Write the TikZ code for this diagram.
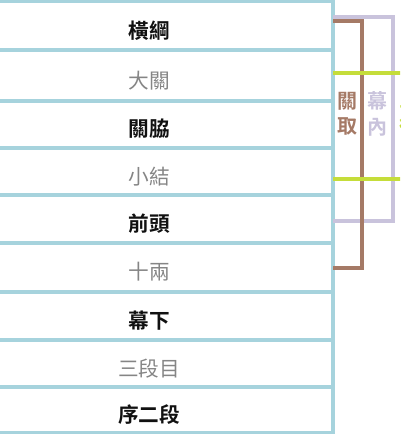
\documentclass[tikz,border=0pt]{standalone}
\usepackage{fontspec}
\newfontfamily\jp{Noto Sans CJK TC}
\newfontfamily\jpb{Noto Sans CJK TC Bold}
\definecolor{tblue}{HTML}{A6D3DD}
\definecolor{tbrown}{HTML}{A57A66}
\definecolor{tlav}{HTML}{C9C3DC}
\definecolor{tgreen}{HTML}{C5DD3A}
\definecolor{tgrey}{HTML}{858585}
\definecolor{tblack}{HTML}{111111}
\begin{document}
\begin{tikzpicture}[x=0.75pt,y=-0.75pt,
  rowline/.style={draw=tblue,line width=2.4pt},
  strong/.style={font=\jpb\fontsize{15.5pt}{18pt}\selectfont,text=tblack,inner sep=0pt},
  weak/.style={font=\jp\fontsize{15.5pt}{18pt}\selectfont,text=tgrey,inner sep=0pt},
  brk/.style={line width=2.3pt},
  vlabel/.style={font=\jpb\fontsize{15pt}{19pt}\selectfont,inner sep=0pt,align=center}]
\useasboundingbox (0,0) rectangle (400,434);
\begin{scope}
\clip (0,0) rectangle (400,434);
% table lines
\foreach \y in {1,50,101,148,195,243,292,340,387,433}
  \draw[rowline] (-5,\y) -- (333,\y);
\draw[rowline] (333,-5) -- (333,440);
% labels
\node[strong] (yokozuna) at (149,31) {橫綱};
\node[weak]   (ozeki)    at (149,81) {大關};
\node[strong] (sekiwake) at (149,129) {關脇};
\node[weak]   (komusubi) at (149,177) {小結};
\node[strong] (maegashira) at (149,224) {前頭};
\node[weak]   (juryo)    at (149,272) {十兩};
\node[strong] (makushita) at (149,321) {幕下};
\node[weak]   (sandanme) at (149,369) {三段目};
\node[strong] (jonidan)  at (149,415) {序二段};
% bracket corners
\coordinate (lavA) at (333,17);
\coordinate (lavB) at (393,17);
\coordinate (lavC) at (393,221);
\coordinate (lavD) at (333,221);
\coordinate (brA) at (333,21);
\coordinate (brB) at (362,21);
\coordinate (brC) at (362,268);
\coordinate (brD) at (333,268);
\coordinate (grA) at (333,73);
\coordinate (grB) at (402,73);
\coordinate (grC) at (333,179);
\coordinate (grD) at (402,179);
\draw[brk,tlav] (lavA) -- (lavB) -- (lavC) -- (lavD);
\draw[brk,tbrown] (brA) -- (brB) -- (brC) -- (brD);
\draw[brk,tgreen] (grA) -- (grB);
\draw[brk,tgreen] (grC) -- (grD);
\node[vlabel,text=tbrown] (sekitori) at (347,114) {關\\取};
\node[vlabel,text=tlav] (makuuchi) at (377,114) {幕\\內};
\node[vlabel,text=tgreen] (sanyaku) at (409,114) {三\\役};
\end{scope}
\end{tikzpicture}
\end{document}
